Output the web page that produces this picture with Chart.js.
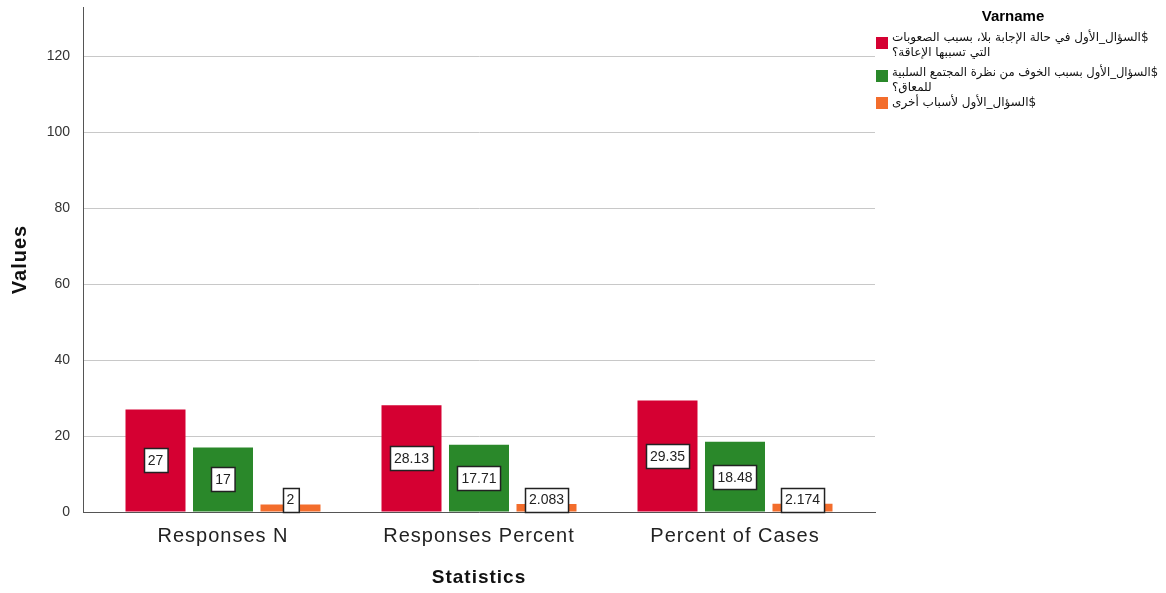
<!DOCTYPE html>
<html>
<head>
<meta charset="utf-8">
<script src="https://cdn.jsdelivr.net/npm/chart.js@4"></script>
<style>
  html, body { margin: 0; padding: 0; background: #fff; }
</style>
</head>
<body>
<canvas id="chart" width="1166" height="593"></canvas>
<script>
// Chart data
const categories = ['Responses N', 'Responses Percent', 'Percent of Cases'];
const seriesLabels = [
    '$السؤال_الأول في حالة الإجابة بلا، بسبب الصعوبات\nالتي تسببها الإعاقة؟',
    '$السؤال_الأول بسبب الخوف من نظرة المجتمع السلبية\nللمعاق؟',
    '$السؤال_الأول لأسباب أخرى'
];
const difficultyValues = [27, 28.13, 29.35];
const fearValues = [17, 17.71, 18.48];
const otherValues = [2, 2.083, 2.174];
const yTicks = [0, 20, 40, 60, 80, 100, 120];
const seriesColors = ['#d50032', '#2a882a', '#f36d2c'];

const FONT = '"Liberation Sans", Arial, "DejaVu Sans", sans-serif';

// Categories sit a little inside the ends of the x axis line
const xInset = {
    id: 'xInset',
    afterLayout(chart) {
        const x = chart.scales.x;
        x._startPixel = x.left + 12;
        x._endPixel = x.right - 12;
        x._length = x._endPixel - x._startPixel;
    }
};

// Axis titles and category labels are drawn a bit wider than the y numbers
const spacing = {
    id: 'spacing',
    beforeDraw(chart) {
        chart.ctx.letterSpacing = '1px';
    },
    beforeDatasetsDraw(chart) {
        chart.ctx.letterSpacing = '0px';
    }
};

// White boxes with the value, centred in each bar
const valueBoxes = {
    id: 'valueBoxes',
    afterDatasetsDraw(chart) {
        const ctx = chart.ctx;
        ctx.save();
        ctx.font = '14px ' + FONT;
        ctx.textAlign = 'center';
        ctx.textBaseline = 'middle';
        chart.data.datasets.forEach((ds, i) => {
            chart.getDatasetMeta(i).data.forEach((bar, j) => {
                const txt = String(ds.data[j]);
                const w = ctx.measureText(txt).width + 8;
                const h = 24;
                let cy = (bar.y + bar.base) / 2;
                cy = Math.min(cy, bar.base - h / 2);
                const x0 = Math.round(bar.x - w / 2) + 0.5;
                const y0 = Math.round(cy - h / 2) + 0.5;
                ctx.fillStyle = '#fff';
                ctx.fillRect(x0, y0, w, h);
                ctx.strokeStyle = '#222';
                ctx.lineWidth = 1.5;
                ctx.strokeRect(x0, y0, w, h);
                ctx.fillStyle = '#222';
                ctx.fillText(txt, bar.x, cy + 1);
            });
        });
        ctx.restore();
    }
};

// Legend on the right with wrapped Arabic labels
const sideLegend = {
    id: 'sideLegend',
    afterDraw(chart) {
        const ctx = chart.ctx;
        ctx.save();
        ctx.letterSpacing = '0px';
        ctx.fillStyle = '#000';
        ctx.font = 'bold 15px ' + FONT;
        ctx.textAlign = 'center';
        ctx.textBaseline = 'middle';
        ctx.fillText('Varname', 1013, 17);

        const boxTops = [37, 70, 97];
        const textTops = [38, 73, 103];
        ctx.font = '12px "DejaVu Sans", ' + FONT;
        ctx.direction = 'rtl';
        ctx.textAlign = 'left';
        chart.data.datasets.forEach((ds, i) => {
            ctx.fillStyle = ds.backgroundColor;
            ctx.fillRect(876, boxTops[i], 12, 12);
            ctx.fillStyle = '#111';
            ds.label.split('\n').forEach((line, k) => {
                ctx.fillText(line, 892, textTops[i] + k * 15, 266);
            });
        });
        ctx.restore();
    }
};

const ctx = document.getElementById('chart').getContext('2d');
const chart = new Chart(ctx, {
    type: 'bar',
    data: {
        labels: categories,
        datasets: [
            { label: seriesLabels[0], data: difficultyValues, backgroundColor: seriesColors[0] },
            { label: seriesLabels[1], data: fearValues, backgroundColor: seriesColors[1] },
            { label: seriesLabels[2], data: otherValues, backgroundColor: seriesColors[2] }
        ]
    },
    options: {
        responsive: false,
        animation: false,
        events: [],
        layout: {
            padding: { left: 0, right: 291, top: 7, bottom: 0 }
        },
        datasets: {
            bar: {
                barPercentage: 0.889,
                categoryPercentage: 0.791
            }
        },
        plugins: {
            legend: { display: false },
            tooltip: { enabled: false }
        },
        scales: {
            x: {
                afterFit: (scale) => { scale.height = 81; },
                grid: { display: false, drawTicks: false },
                border: { display: true, color: '#555', width: 1 },
                ticks: {
                    color: '#222',
                    padding: 12,
                    font: { family: FONT, size: 20 }
                },
                title: {
                    display: true,
                    text: 'Statistics',
                    color: '#111',
                    font: { family: FONT, size: 19, weight: 'bold' },
                    padding: { top: 0, bottom: 4 }
                }
            },
            y: {
                min: 0,
                max: 133,
                afterFit: (scale) => {
                    scale.width = 83;
                    scale.paddingTop = 0;
                    scale.paddingBottom = 0;
                },
                afterBuildTicks: (scale) => {
                    scale.ticks = yTicks.map(v => ({ value: v }));
                },
                grid: { color: '#c8c8c8', lineWidth: 1, drawTicks: false },
                border: { display: true, color: '#555', width: 1 },
                ticks: {
                    z: 1,
                    color: '#333',
                    padding: 13,
                    font: { family: FONT, size: 14 }
                },
                title: {
                    display: true,
                    text: 'Values',
                    color: '#111',
                    font: { family: FONT, size: 20, weight: 'bold' },
                    padding: { top: 8, bottom: 0 }
                }
            }
        }
    },
    plugins: [xInset, spacing, valueBoxes, sideLegend]
});
</script>
</body>
</html>
